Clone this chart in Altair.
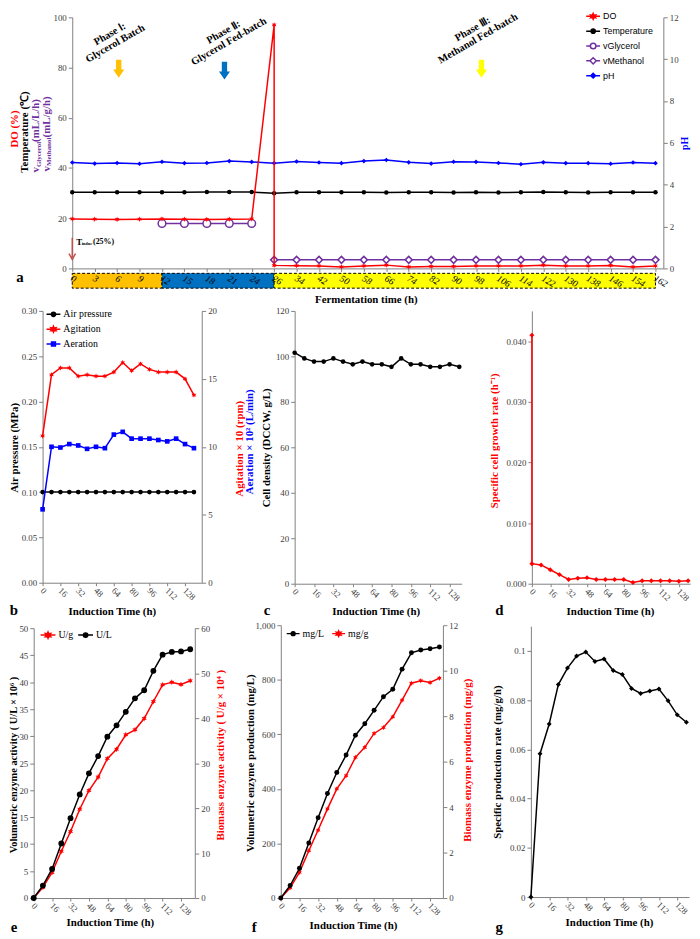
import altair as alt
import pandas as pd

# ---------------- data ----------------
ferm_time = [0, 3, 6, 9, 12, 15, 18, 21, 24, 26, 34, 42, 50, 58, 66, 74, 82, 90, 98,
             106, 114, 122, 130, 138, 146, 154, 162]
ferm_pos = list(range(len(ferm_time)))

do_pos = [0, 1, 2, 3, 4, 5, 6, 7, 8, 9, 9, 10, 11, 12, 13, 14, 15, 16, 17, 18, 19, 20,
          21, 22, 23, 24, 25, 26]
do_val = [19.7, 19.6, 19.5, 19.6, 19.7, 19.6, 19.5, 19.6, 19.7, 97.0, 1.2,
          1.1, 1.0, 0.6, 1.0, 1.3, 0.6, 0.8, 0.8, 1.0, 1.0, 1.0, 1.3, 1.0, 1.0, 1.2, 0.6, 1.0]
temp_val = [30.3, 30.3, 30.3, 30.3, 30.3, 30.3, 30.4, 30.4, 30.4, 29.9, 30.3, 30.3, 30.3,
            30.3, 30.2, 30.3, 30.3, 30.2, 30.3, 30.2, 30.3, 30.4, 30.3, 30.2, 30.3, 30.3, 30.3]
ph_val = [5.06, 5.01, 5.04, 5.00, 5.10, 5.03, 5.04, 5.13, 5.09, 5.03, 5.11, 5.06, 5.03,
          5.13, 5.18, 5.07, 5.01, 5.10, 5.09, 5.04, 4.98, 5.07, 5.03, 5.03, 5.00, 5.06, 5.03]
vgly_pos = [4, 5, 6, 7, 8]
vgly_val = [17.9, 17.9, 17.9, 17.9, 17.9]
vmeth_pos = [9, 10, 11, 12, 13, 14, 15, 16, 17, 18, 19, 20, 21, 22, 23, 24, 25, 26]
vmeth_val = [3.4, 3.4, 3.4, 3.4, 3.4, 3.4, 3.4, 3.4, 3.4, 3.4, 3.4, 3.4, 3.4, 3.4, 3.4,
             3.4, 3.4, 3.4]
phase_names = ["Phase I", "Phase II", "Phase III"]
phase_start = [0, 4, 9]
phase_end = [4, 9, 26]
phase_titles = ["Phase \u2160:\nGlycerol Batch", "Phase \u2161:\nGlycerol Fed-batch",
                "Phase \u2162:\nMethanol Fed-batch"]

induction = [0, 8, 16, 24, 32, 40, 48, 56, 64, 72, 80, 88, 96, 104, 112, 120, 128, 136]
ind_ticks = [0, 16, 32, 48, 64, 80, 96, 112, 128]
air_pressure = [0.10, 0.10, 0.10, 0.10, 0.10, 0.10, 0.10, 0.10, 0.10, 0.10, 0.10, 0.10,
                0.10, 0.10, 0.10, 0.10, 0.10, 0.10]
agitation = [10.8, 15.3, 15.8, 15.8, 15.2, 15.3, 15.2, 15.2, 15.5, 16.2, 15.6, 16.1, 15.7,
             15.5, 15.5, 15.5, 15.0, 13.8]
aeration = [5.4, 10.0, 9.95, 10.2, 10.1, 9.85, 10.0, 9.9, 10.9, 11.1, 10.6, 10.6, 10.6,
            10.5, 10.4, 10.6, 10.2, 9.9]
cell_density = [101.6, 99.1, 97.7, 97.7, 99.1, 97.7, 96.5, 97.7, 96.5, 96.5, 95.4, 99.1,
                96.5, 96.5, 95.4, 95.4, 96.5, 95.4]
growth_time = [0, 0, 8, 16, 24, 32, 40, 48, 56, 64, 72, 80, 88, 96, 104, 112, 120, 128, 136]
growth_rate = [0.041, 0.0033, 0.0031, 0.0023, 0.0015, 0.0007, 0.0009, 0.0010, 0.0007,
               0.0007, 0.0007, 0.0007, 0.0002, 0.0005, 0.0005, 0.0005, 0.0005, 0.0004, 0.0005]
u_per_l = [0, 2.3, 5.4, 10.1, 14.8, 19.2, 23.1, 26.3, 29.9, 32.0, 34.5, 37.0, 38.5, 42.1,
           45.1, 45.6, 45.7, 46.1]
u_per_g = [0, 2.4, 5.7, 10.4, 14.8, 19.75, 23.9, 26.9, 31.0, 33.1, 36.3, 37.4, 39.9, 43.7,
           47.4, 48.0, 47.5, 48.3]
mg_per_l = [0, 46, 109, 202, 294, 383, 460, 524, 597, 639, 688, 738, 765, 839, 899, 909,
            914, 920]
mg_per_g = [0, 0.45, 1.13, 2.08, 2.99, 3.92, 4.80, 5.38, 6.19, 6.63, 7.24, 7.50, 7.97, 8.71,
            9.45, 9.56, 9.48, 9.67]
spec_rate = [0, 0.0582, 0.0703, 0.0863, 0.0930, 0.0979, 0.0995, 0.0957, 0.0967, 0.0920,
             0.0904, 0.0847, 0.0827, 0.0837, 0.0845, 0.0797, 0.0740, 0.0710]

panel_letters = ["a", "b", "c", "d", "e", "f", "g"]

# ---------------- style ----------------
W, H = 692, 931
SERIF = "Liberation Serif"
SANS = "Liberation Sans"
RED, BLACK, BLUE, PURPLE = "#FF0000", "#000000", "#0000FF", "#7030A0"

STAR_PTS = [(0, -1), (0.24, -0.42), (0.87, -0.5), (0.48, 0), (0.87, 0.5), (0.24, 0.42),
            (0, 1), (-0.24, 0.42), (-0.87, 0.5), (-0.48, 0), (-0.87, -0.5), (-0.24, -0.42)]


def star(r):
    return "M" + "L".join(f"{x * r:.3f},{y * r:.3f}" for x, y in STAR_PTS) + "Z"


def circ(r):
    return f"M{-r},0A{r},{r},0,1,1,{r},0A{r},{r},0,1,1,{-r},0Z"


STAR = star(1)
SYM = {
    "star": "M-1,0H1" + star(0.42),
    "circle": "M-1,0H1" + circ(0.3),
    "square": "M-1,0H1M-0.28,-0.28H0.28V0.28H-0.28Z",
    "diamond": "M-1,0H1M-0.35,0L0,-0.35L0.35,0L0,0.35Z",
    "ocircle": "M-1,0H-0.4M0.4,0H1" + circ(0.4),
    "odiamond": "M-1,0H-0.45M0.45,0H1M-0.45,0L0,-0.45L0.45,0L0,0.45Z",
}


def scale(domain, rng):
    return alt.Scale(domain=domain, range=rng, nice=False, zero=False)


def X(domain, rng, axis=None, field="x:Q"):
    return alt.X(field, scale=scale(domain, rng), axis=axis)


def Y(domain, rng, axis=None, field="y:Q"):
    return alt.Y(field, scale=scale(domain, rng), axis=axis)


def leg(x, y, sym, size=196, font=SERIF, fs=10, stroke=BLACK, open_=False):
    kw = dict(orient="none", legendX=x, legendY=y, title=None, symbolType=SYM[sym],
              symbolSize=size, symbolStrokeColor=stroke, symbolStrokeWidth=1.5,
              labelFont=font, labelFontSize=fs, labelColor="black", labelOffset=2,
              padding=0, symbolOpacity=1)
    if open_:
        kw["symbolFillColor"] = "white"
    return alt.Legend(**kw)


def series(name, xs, ys, xe, ye, color, shape, size, filled=True, legend=None, width=1.5):
    df = pd.DataFrame({"x": xs, "y": ys, "seq": list(range(len(xs))), "series": name})
    base = alt.Chart(df)
    line = base.mark_line(color=color, strokeWidth=width).encode(x=xe, y=ye, order="seq:Q")
    pkw = dict(shape=shape, size=size, filled=filled, opacity=1)
    if not filled:
        pkw.update(fill="white", strokeWidth=1.5)
    pts = base.mark_point(**pkw).encode(
        x=xe, y=ye,
        color=alt.Color("series:N", scale=alt.Scale(domain=[name], range=[color]), legend=legend))
    return alt.layer(line, pts)


def txt(s, x, y, **kw):
    return alt.Chart(pd.DataFrame({"t": [s]})).mark_text(**kw).encode(
        x=alt.value(x), y=alt.value(y), text="t:N")


def ind_axis(offset, tx, ty):
    return alt.Axis(orient="bottom", offset=offset, values=ind_ticks, labelAngle=45,
                    labelAlign="left", labelBaseline="middle", tickSize=3, labelPadding=3,
                    labelOffset=-1, title="Induction Time (h)", titleX=tx, titleY=ty)


layers = []

# ================= panel a =================
XA_D, XA_R = [0, 26.35], [65, 663]
YA_R = [258, 4]
xa_axis = alt.Axis(orient="bottom", offset=258 - H, values=ferm_pos, labels=False, tickSize=3,
                   title="Fermentation time (h)", titleX=362, titleY=31)
ya_axis = alt.Axis(orient="left", offset=-65, values=[0, 20, 40, 60, 80, 100], tickSize=4,
                   title=None)
ph_axis = alt.Axis(orient="right", offset=663 - W, values=[0, 2, 4, 6, 8, 10, 12], tickSize=4,
                   title="pH", titleColor=BLUE, titleAngle=270, titleX=21, titleFontSize=10)

# phase band below the axis
band = alt.Chart(pd.DataFrame({"s": phase_start, "e": phase_end, "p": phase_names})).mark_rect(
    stroke="black", strokeDash=[3, 2], strokeWidth=1).encode(
    x=X(XA_D, XA_R, field="s:Q"), x2="e:Q", y=alt.value(263), y2=alt.value(278),
    color=alt.Color("p:N", scale=alt.Scale(domain=phase_names,
                                           range=["#FFC000", "#0070C0", "#FFFF00"]),
                    legend=None))
band_lab = alt.Chart(pd.DataFrame({"x": ferm_pos, "t": [str(v) for v in ferm_time]})).mark_text(
    angle=30, align="left", baseline="middle", font=SERIF, fontStyle="italic", fontSize=9.5,
    dx=-1, color="black").encode(x=X(XA_D, XA_R), y=alt.value(268), text="t:N")
layers += [band, band_lab]

layers.append(series("Temperature", ferm_pos, temp_val, X(XA_D, XA_R), Y([0, 100], YA_R),
                     BLACK, "circle", 20, legend=leg(584, 10, "circle", font=SANS, fs=9)))
layers.append(series("vGlycerol", vgly_pos, vgly_val, X(XA_D, XA_R), Y([0, 100], YA_R),
                     PURPLE, "circle", 60, filled=False,
                     legend=leg(584, 25, "ocircle", font=SANS, fs=9, stroke=PURPLE, open_=True)))
layers.append(series("vMethanol", vmeth_pos, vmeth_val, X(XA_D, XA_R), Y([0, 100], YA_R),
                     PURPLE, "diamond", 50, filled=False,
                     legend=leg(584, 40, "odiamond", font=SANS, fs=9, stroke=PURPLE, open_=True)))
layers.append(series("pH", ferm_pos, ph_val, X(XA_D, XA_R), Y([0, 12], YA_R, ph_axis),
                     BLUE, "diamond", 22, legend=leg(584, 55, "diamond", font=SANS, fs=9,
                                                     stroke=BLUE)))
layers.append(series("DO", do_pos, do_val, X(XA_D, XA_R, xa_axis), Y([0, 100], YA_R, ya_axis),
                     RED, STAR, 30, legend=leg(584, -5, "star", font=SANS, fs=9, stroke=RED)))

# left multi-colour axis title of panel a
TB = dict(angle=270, baseline="middle", font=SERIF, fontWeight="bold")
layers += [
    txt("DO (%)", 7, 117, align="center", fontSize=11, color=RED, **TB),
    txt("Temperature (\u2103)", 17, 120, align="center", fontSize=11, color=BLACK, **TB),
    txt("v", 28, 161, align="left", fontSize=11, color=PURPLE, **TB),
    txt("Glycerol", 31, 155.5, align="left", fontSize=7, color=PURPLE, **TB),
    txt(" (mL/L/h)", 28, 130, align="left", fontSize=11, color=PURPLE, **TB),
    txt("v", 39, 160, align="left", fontSize=11, color=PURPLE, **TB),
    txt("Methanol", 42, 154.5, align="left", fontSize=7, color=PURPLE, **TB),
    txt(" (mL/g/h)", 39, 125.5, align="left", fontSize=11, color=PURPLE, **TB),
]

# phase annotations and arrows
PH = dict(angle=330, align="center", baseline="middle", font=SERIF, fontWeight="bold",
          fontSize=10.5, lineBreak="\n", lineHeight=11)
layers += [txt(phase_titles[0], 103, 21, **PH), txt(phase_titles[1], 218, 19, **PH),
           txt(phase_titles[2], 470, 16, **PH)]
ARROW = "M-0.3,-1H0.3V0.1H0.62L0,1L-0.62,0.1H-0.3Z"
for nm, col, ax, ay in [(phase_names[0], "#FFC000", 112, 56), (phase_names[1], "#0070C0", 219, 58),
                        (phase_names[2], "#FFFF00", 479, 56)]:
    layers.append(alt.Chart(pd.DataFrame({"p": [nm]})).mark_point(
        shape=ARROW, size=324, filled=True, color=col, opacity=1).encode(
        x=alt.value(ax), y=alt.value(ay)))
layers.append(alt.Chart(pd.DataFrame({"p": ["T induc"]})).mark_point(
    shape="M0,-1V0.8M-0.3,0.45L0,1L0.3,0.45", size=484, filled=False, color="#C0504D",
    strokeWidth=1.5, opacity=1).encode(x=alt.value(65), y=alt.value(238)))
TI = dict(font=SERIF, fontWeight="bold", align="left", baseline="middle", color=BLACK)
layers += [txt("T", 69, 231, fontSize=9, **TI), txt("induc", 74.5, 233.5, fontSize=4.5, **TI),
           txt("(25%)", 86, 231, fontSize=8, **TI)]

# ================= panel b =================
XB_D, XB_R, YB_R = [0, 143], [35, 196], [576, 301]
b_left = alt.Axis(orient="left", offset=-35, values=[0, 0.05, 0.1, 0.15, 0.2, 0.25, 0.3],
                  format=".2f", tickSize=4, title="Air pressure (MPa)", titleX=-28.5, titleY=439)
b_right = alt.Axis(orient="right", offset=196 - W, values=[0, 5, 10, 15, 20], tickSize=4,
                   title="Agitation \u00d7 10 (rpm)", titleColor=RED, titleAngle=270,
                   titleX=38, titleY=440)
b_right2 = alt.Axis(orient="right", offset=196 - W, labels=False, ticks=False, domain=False,
                    title="Aeration \u00d7 10\u00b2 (L/min)", titleColor=BLUE, titleAngle=270,
                    titleX=48, titleY=433)
layers.append(series("Air pressure", induction, air_pressure,
                     X(XB_D, XB_R, ind_axis(576 - H, 105, 29)), Y([0, 0.3], YB_R, b_left),
                     BLACK, "circle", 22, legend=leg(38, 296.5, "circle")))
layers.append(series("Agitation", induction, agitation, X(XB_D, XB_R), Y([0, 20], YB_R, b_right),
                     RED, STAR, 30, legend=leg(38, 311.5, "star", stroke=RED)))
layers.append(series("Aeration", induction, aeration, X(XB_D, XB_R), Y([0, 20], YB_R, b_right2),
                     BLUE, "square", 22, legend=leg(38, 326.5, "square", stroke=BLUE)))

# ================= panel c =================
c_left = alt.Axis(orient="left", offset=-290, values=[0, 20, 40, 60, 80, 100, 120], tickSize=4,
                  title="Cell density (DCCW, g/L)", titleX=-28, titleY=439)
layers.append(series("Cell density", induction, cell_density,
                     X([0, 138], [290, 459], ind_axis(577 - H, 372, 28)),
                     Y([0, 120], [577, 301], c_left), BLACK, "circle", 22))

# ================= panel d =================
d_left = alt.Axis(orient="left", offset=-530, values=[0, 0.01, 0.02, 0.03, 0.04], format=".3f",
                  tickSize=4, title="Specific cell growth rate (h\u207b\u00b9)", titleColor=RED,
                  titleX=-38, titleY=432)
layers.append(series("Growth rate", growth_time, growth_rate,
                     X([0, 137.7], [530, 690], ind_axis(577 - H, 609, 28)),
                     Y([0, 0.045], [577, 301], d_left), RED, "diamond", 25))

# ================= panel e =================
XE_D, XE_R, YE_R = [0, 140], [26, 189], [895, 622]
e_left = alt.Axis(orient="left", offset=-26, values=[0, 5, 10, 15, 20, 25, 30, 35, 40, 45, 50],
                  tickSize=4, title="Volumetric enzyme activity ( U/L \u00d7 10\u2076 )",
                  titleX=-20, titleY=760, titleFontSize=10.5)
e_right = alt.Axis(orient="right", offset=189 - W, values=[0, 10, 20, 30, 40, 50, 60], tickSize=4,
                   title="Biomass enzyme activity ( U/g \u00d7 10\u2074 )", titleColor=RED,
                   titleAngle=270, titleX=26, titleY=750)
layers.append(series("U/g", induction, u_per_g, X(XE_D, XE_R), Y([0, 60], YE_R, e_right),
                     RED, STAR, 36, legend=leg(32, 620.5, "star", size=225, stroke=RED)))
layers.append(series("U/L", induction, u_per_l, X(XE_D, XE_R, ind_axis(895 - H, 103, 25)),
                     Y([0, 50], YE_R, e_left), BLACK, "circle", 35,
                     legend=leg(70, 620.5, "circle", size=225)))

# ================= panel f =================
XF_D, XF_R, YF_R = [0, 139], [276, 440], [895, 619]
f_left = alt.Axis(orient="left", offset=-276, values=[0, 200, 400, 600, 800, 1000], tickSize=4,
                  title="Volumetric enzyme production (mg/L)", titleX=-31, titleY=758)
f_right = alt.Axis(orient="right", offset=440 - W, values=[0, 2, 4, 6, 8, 10, 12], tickSize=4,
                   title="Biomass enzyme production (mg/g)", titleColor=RED, titleAngle=270,
                   titleX=25, titleY=755)
layers.append(series("mg/g", induction, mg_per_g, X(XF_D, XF_R), Y([0, 12], YF_R, f_right),
                     RED, STAR, 30, legend=leg(327, 620, "star", size=169, stroke=RED)))
layers.append(series("mg/L", induction, mg_per_l, X(XF_D, XF_R, ind_axis(895 - H, 349, 28)),
                     Y([0, 1000], YF_R, f_left), BLACK, "circle", 25,
                     legend=leg(281, 620, "circle", size=169)))

# ================= panel g =================
g_left = alt.Axis(orient="left", offset=-529, values=[0, 0.02, 0.04, 0.06, 0.08, 0.1],
                  format=".2~f", tickSize=4, title="Specific production rate (mg/g/h)",
                  titleX=-34, titleY=757)
layers.append(series("Specific production rate", induction, spec_rate,
                     X([0, 138.3], [529, 689], ind_axis(894 - H, 608, 26)),
                     Y([0, 0.11], [894, 620], g_left), BLACK, "diamond", 25))

# ================= panel letters =================
LT = dict(font=SERIF, fontWeight="bold", fontSize=15, align="center", baseline="middle",
          color=BLACK)
for letter, lx, ly in zip(panel_letters, [12, 6, 262, 497, 6, 249, 497],
                          [267, 604, 604, 604, 924, 924, 924]):
    layers.append(txt(letter, lx, ly, **LT))

chart = alt.layer(*layers).resolve_scale(
    x="independent", y="independent", color="independent"
).properties(
    width=W, height=H, padding=0, autosize=alt.AutoSizeParams(type="none")
).configure_view(strokeWidth=0).configure_axis(
    labelFont=SERIF, labelFontSize=9, labelColor="#404040", domainColor="#808080",
    tickColor="#808080", titleFont=SERIF, titleFontWeight="bold", titleFontSize=11,
    titleColor="black", grid=False, titleAlign="center", titleBaseline="middle",
    labelPadding=2
)

chart.save("out.html", embed_options={"renderer": "svg", "actions": False})
